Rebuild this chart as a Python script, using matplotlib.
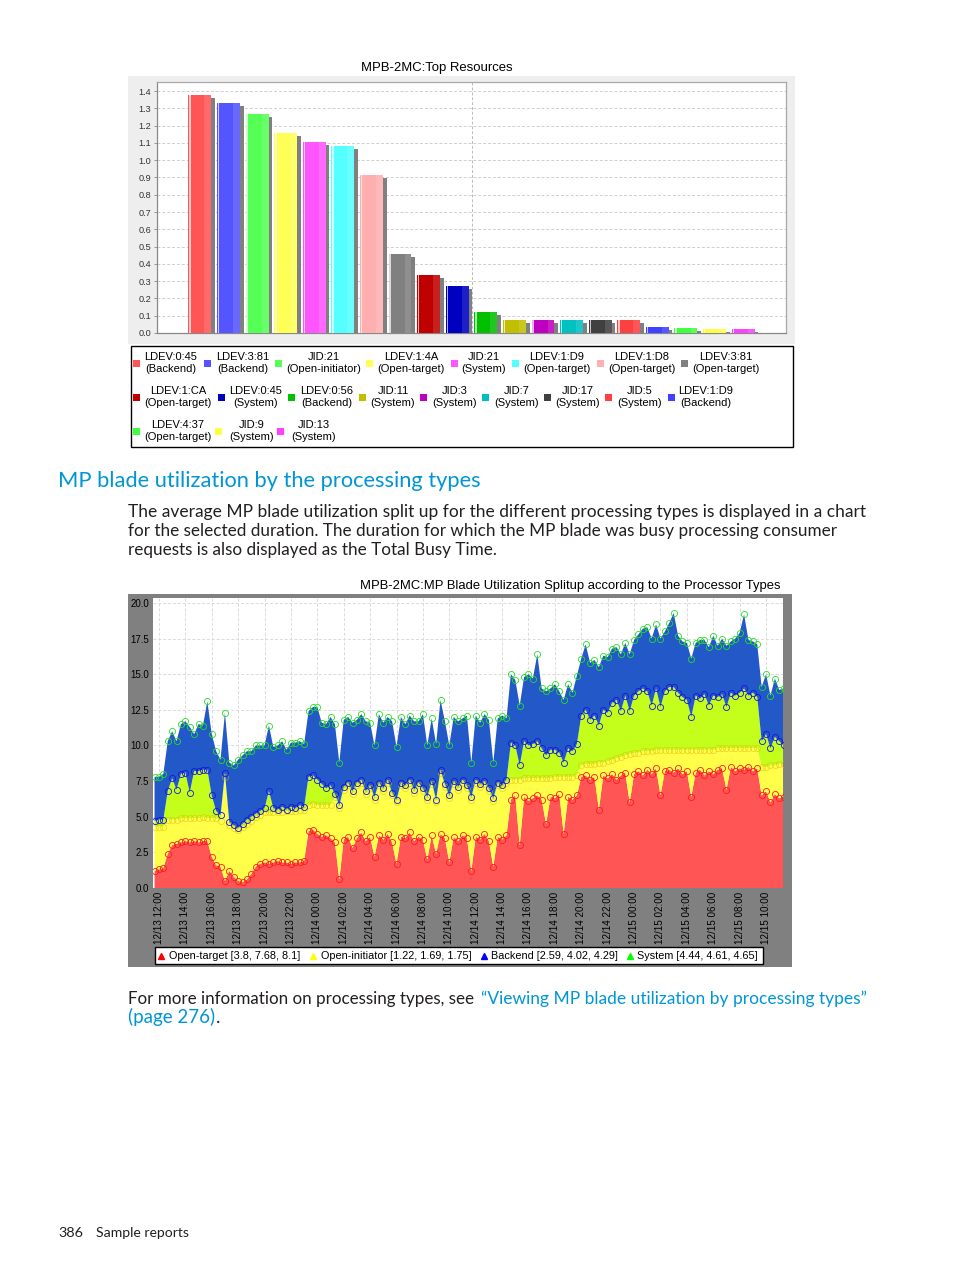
import numpy as np
import pandas as pd
import matplotlib
matplotlib.use("Agg")
import matplotlib.pyplot as plt
import matplotlib.dates as mdates
import matplotlib.colors as mcolors
from matplotlib.patches import Rectangle

plt.rcParams['font.family'] = ['Liberation Sans', 'DejaVu Sans']

# ------------------------------------------------------------------ data
# Top resources bar chart
res_names = ["LDEV:0:45", "LDEV:3:81", "JID:21", "LDEV:1:4A", "JID:21", "LDEV:1:D9",
             "LDEV:1:D8", "LDEV:3:81", "LDEV:1:CA", "LDEV:0:45", "LDEV:0:56", "JID:11",
             "JID:3", "JID:7", "JID:17", "JID:5", "LDEV:1:D9", "LDEV:4:37", "JID:9", "JID:13"]
res_types = ["Backend", "Backend", "Open-initiator", "Open-target", "System", "Open-target",
             "Open-target", "Open-target", "Open-target", "System", "Backend", "System",
             "System", "System", "System", "System", "Backend", "Open-target", "System", "System"]
res_values = [1.38, 1.33, 1.27, 1.16, 1.105, 1.08, 0.915, 0.455, 0.338, 0.272,
              0.12, 0.073, 0.073, 0.073, 0.073, 0.073, 0.033, 0.029, 0.021, 0.021]
res_colors = ["#FF5555", "#5555FF", "#55FF55", "#FFFF55", "#FF55FF", "#55FFFF", "#FFAFAF",
              "#808080", "#C00000", "#0000C0", "#00C000", "#C0C000", "#C000C0", "#00C0C0",
              "#404040", "#FF4040", "#4040FF", "#40FF40", "#FFFF40", "#FF40FF"]
res_yticks = [0.0, 0.1, 0.2, 0.3, 0.4, 0.5, 0.6, 0.7, 0.8, 0.9, 1.0, 1.1, 1.2, 1.3, 1.4]

# MP blade utilisation split-up (20-minute samples from 12/13 11:40)
series_names = ["Open-target", "Open-initiator", "Backend", "System"]
series_stats = ["[3.8, 7.68, 8.1]", "[1.22, 1.69, 1.75]", "[2.59, 4.02, 4.29]", "[4.44, 4.61, 4.65]"]
start_time = "2013-12-13 11:40"
open_target = [
    1.2, 1.3, 1.4, 2.4, 3.0, 3.1, 3.2, 3.3, 3.2, 3.3,
    3.2, 3.3, 3.3, 2.2, 1.6, 1.5, 0.5, 1.2, 0.8, 0.5,
    0.4, 0.6, 1.0, 1.5, 1.7, 1.8, 1.7, 1.8, 1.9, 1.8,
    1.8, 1.7, 1.8, 1.8, 1.9, 4.0, 4.1, 3.8, 3.6, 3.7,
    3.5, 3.2, 0.6, 3.4, 3.6, 2.8, 3.5, 3.9, 3.3, 3.6,
    2.2, 3.7, 3.4, 3.8, 3.2, 1.7, 3.6, 3.5, 3.9, 3.3,
    3.6, 3.4, 2.0, 3.7, 2.4, 3.8, 3.5, 1.8, 3.6, 3.3,
    3.7, 3.5, 1.2, 3.6, 3.4, 3.8, 3.3, 1.5, 3.6, 3.4,
    3.7, 6.2, 6.5, 3.0, 6.4, 6.1, 6.3, 6.5, 6.2, 4.5,
    6.4, 6.3, 6.6, 3.8, 6.4, 6.2, 6.5, 7.8, 7.9, 7.6,
    7.8, 5.5, 7.9, 7.7, 8.0, 7.6, 7.9, 8.1, 6.0, 8.0,
    8.2, 7.9, 8.3, 8.0, 8.4, 6.5, 8.2, 8.3, 8.1, 8.4,
    8.0, 8.2, 6.4, 8.1, 8.3, 7.9, 8.2, 8.0, 8.3, 8.4,
    6.9, 8.5, 8.2, 8.4, 8.3, 8.5, 8.2, 8.4, 6.5, 6.8,
    6.0, 6.6, 6.3, 6.4]
open_initiator = [
    3.1, 3.0, 2.9, 2.4, 1.8, 1.7, 1.7, 1.6, 1.7, 1.6,
    1.7, 1.7, 1.6, 2.7, 3.3, 3.2, 7.3, 3.2, 3.4, 3.6,
    3.9, 3.9, 3.7, 3.5, 3.4, 3.5, 3.6, 3.5, 3.4, 3.5,
    3.6, 3.7, 3.6, 3.7, 3.6, 1.8, 1.8, 2.0, 2.2, 2.1,
    2.3, 3.2, 5.0, 3.5, 3.6, 3.8, 3.7, 3.5, 3.3, 3.4,
    4.0, 3.5, 3.4, 3.6, 3.3, 4.3, 3.6, 3.5, 3.5, 3.4,
    3.6, 3.4, 4.2, 3.6, 3.6, 4.3, 3.6, 4.5, 3.7, 3.6,
    3.7, 3.5, 5.0, 3.8, 3.7, 3.5, 3.5, 4.6, 3.6, 3.6,
    3.7, 1.4, 1.1, 4.6, 1.3, 1.6, 1.4, 1.2, 1.5, 3.2,
    1.3, 1.5, 1.2, 4.0, 1.4, 1.6, 1.4, 0.8, 0.8, 1.1,
    0.9, 3.3, 0.9, 1.2, 1.0, 1.5, 1.3, 1.2, 3.4, 1.5,
    1.3, 1.7, 1.3, 1.6, 1.3, 3.2, 1.5, 1.4, 1.6, 1.3,
    1.7, 1.5, 3.3, 1.6, 1.4, 1.8, 1.5, 1.7, 1.5, 1.4,
    2.9, 1.3, 1.6, 1.4, 1.5, 1.3, 1.6, 1.4, 2.0, 1.7,
    2.6, 2.0, 2.4, 2.3]
backend = [
    0.4, 0.5, 0.5, 2.0, 2.9, 2.1, 3.1, 3.2, 1.8, 3.3,
    3.3, 3.3, 3.4, 1.6, 0.5, 0.4, 0.3, 0.2, 0.2, 0.1,
    0.2, 0.3, 0.3, 0.2, 0.3, 0.3, 1.5, 0.3, 0.2, 0.4,
    0.1, 0.3, 0.2, 0.3, 0.2, 2.0, 2.0, 1.8, 1.5, 1.2,
    1.4, 0.2, 0.2, 0.2, 0.2, 0.2, 0.2, 0.2, 0.2, 0.2,
    0.2, 0.2, 0.2, 0.2, 0.2, 0.2, 0.2, 0.2, 0.2, 0.2,
    0.2, 0.2, 0.2, 0.2, 0.2, 0.2, 0.2, 0.2, 0.2, 0.2,
    0.2, 0.2, 0.2, 0.2, 0.2, 0.2, 0.2, 0.2, 0.2, 0.2,
    0.2, 2.6, 2.4, 1.0, 2.6, 2.3, 2.4, 2.6, 2.1, 1.6,
    2.0, 1.9, 1.7, 1.0, 2.0, 1.8, 2.2, 3.5, 3.8, 3.1,
    3.4, 2.6, 3.7, 3.4, 4.0, 4.1, 3.2, 4.2, 3.0, 4.0,
    4.3, 4.4, 4.2, 3.2, 4.3, 3.0, 4.1, 4.4, 4.4, 4.0,
    3.7, 3.5, 2.3, 3.8, 3.6, 3.9, 3.1, 3.8, 3.6, 3.8,
    2.9, 3.9, 3.7, 3.9, 4.2, 3.7, 3.9, 3.6, 1.8, 2.3,
    1.2, 2.0, 1.6, 1.3]
system = [
    3.1, 3.0, 3.2, 3.5, 3.3, 3.4, 3.5, 3.6, 4.6, 2.6,
    3.3, 3.1, 4.8, 4.3, 4.2, 3.9, 4.2, 4.2, 4.2, 4.8,
    4.8, 4.8, 4.6, 4.8, 4.6, 4.4, 4.6, 4.3, 4.5, 4.6,
    4.2, 4.5, 4.6, 4.5, 4.4, 4.6, 4.8, 5.1, 4.3, 4.5,
    4.8, 4.9, 3.0, 4.7, 4.6, 4.8, 4.4, 4.6, 4.9, 4.4,
    3.6, 4.8, 4.6, 4.4, 5.0, 3.7, 4.6, 4.3, 4.5, 4.8,
    4.3, 5.2, 3.6, 4.4, 3.9, 4.9, 4.4, 3.5, 4.5, 4.6,
    4.3, 4.9, 2.4, 4.5, 4.3, 4.7, 4.8, 2.5, 4.5, 4.9,
    4.3, 4.8, 4.6, 4.2, 4.5, 5.0, 4.6, 6.1, 4.2, 4.5,
    4.3, 4.6, 4.3, 4.4, 4.5, 4.1, 4.8, 4.0, 4.6, 4.0,
    3.9, 4.1, 3.8, 3.9, 3.8, 3.7, 4.0, 3.7, 4.0, 3.9,
    4.0, 4.2, 4.5, 4.7, 4.5, 4.8, 4.2, 4.5, 5.2, 4.0,
    3.9, 4.0, 4.1, 3.7, 4.1, 3.8, 4.1, 4.2, 3.6, 3.9,
    4.3, 3.6, 4.0, 4.2, 5.2, 3.9, 3.6, 3.7, 3.8, 4.2,
    3.7, 4.1, 3.6, 4.0]
util_yticks = [0.0, 2.5, 5.0, 7.5, 10.0, 12.5, 15.0, 17.5, 20.0]

# page text
heading = "MP blade utilization by the processing types"
body_lines = ["The average MP blade utilization split up for the different processing types is displayed in a chart",
              "for the selected duration. The duration for which the MP blade was busy processing consumer",
              "requests is also displayed as the Total Busy Time."]
more_info = "For more information on processing types, see"
link_text = "\u201cViewing MP blade utilization by processing types\u201d"
link_page = "(page 276)"
page_no = "386"
section = "Sample reports"
title_top = "MPB-2MC:Top Resources"
title_bottom = "MPB-2MC:MP Blade Utilization Splitup according to the Processor Types"

# ------------------------------------------------------------------ figure
W, H = 954, 1271
fig = plt.figure(figsize=(W / 100, H / 100), dpi=100)
renderer = fig.canvas.get_renderer()

bg = fig.add_axes([0, 0, 1, 1])
bg.set_xlim(0, W)
bg.set_ylim(H, 0)
bg.set_axis_off()
bg.patch.set_visible(False)
bg.set_zorder(-5)


def px_axes(x0, y0, x1, y1):
    return fig.add_axes([x0 / W, 1 - y1 / H, (x1 - x0) / W, (y1 - y0) / H])


def fit_text(x, y, s, width, size0=10, **kw):
    t = bg.text(x, y, s, fontsize=size0, **kw)
    w = t.get_window_extent(renderer).width
    t.set_fontsize(size0 * width / w)
    return t


def lighten(c, f):
    r, g, b = mcolors.to_rgb(c)
    return (r + (1 - r) * f, g + (1 - g) * f, b + (1 - b) * f)


PAGE_FONT = ['Lato', 'DejaVu Sans']
HP_BLUE = '#0096D6'
TXT = '#231F20'

# ------------------------------------------------------------------ top chart
bg.add_patch(Rectangle((128, 76), 667, 268, fc='#EEEEEE', ec='none'))
fit_text(437, 71, title_top, 152, ha='center', va='baseline', color='black')

ax1 = px_axes(157, 82, 786, 333)
xs = np.arange(len(res_values))
vals = np.array(res_values)
ax1.bar(xs + 0.13, np.maximum(vals - 0.018, 0), width=0.8, color='#808080', zorder=2)
ax1.bar(xs, vals, width=0.8, color=res_colors, zorder=3)
ax1.bar(xs + 0.16, vals, width=0.24, align='edge', color=[lighten(c, 0.12) for c in res_colors], zorder=3.5)
ax1.bar(xs - 0.4 + 0.03, vals, width=0.05, align='edge',
        color=[lighten(c, 0.7) for c in res_colors], zorder=4)
ax1.set_xlim(-1.5, 20.5)
ax1.set_ylim(0, 1.4525)
ax1.set_yticks(res_yticks)
ax1.set_yticklabels([f"{v:.1f}" for v in res_yticks], fontsize=6.6, color='#333333')
ax1.set_xticks([])
ax1.tick_params(axis='y', length=2, width=0.6, color='#888888', pad=2)
for v in res_yticks[1:]:
    ax1.axhline(v, color='#CFCFCF', lw=0.7, ls=(0, (3, 2)), zorder=1)
ax1.axvline(9.5, color='#BBBBBB', lw=0.7, ls=(0, (3, 2)), zorder=1)
for sp in ax1.spines.values():
    sp.set_color('#A8A8A8')
    sp.set_linewidth(0.9)
ax1.spines['left'].set_color('#888888')
ax1.spines['bottom'].set_color('#888888')

# legend of top chart
bg.add_patch(Rectangle((131, 346), 662, 101, fc='white', ec='black', lw=1.0))
sq_x = [136.6, 207.4, 278.2, 369.6, 454.2, 515.6, 600.1, 684.7,
        136.6, 221.5, 291.9, 362.8, 424.0, 486.0, 547.7, 608.7, 671.8,
        136.6, 219.0, 281.0]
tx_x = [171, 243, 324, 411, 484, 557, 642, 726,
        178, 256, 327, 393, 455, 517, 578, 640, 706,
        178, 251.6, 313.8]
row_y = [363] * 8 + [397] * 9 + [431] * 3
for i, (nm, tp) in enumerate(zip(res_names, res_types)):
    bg.add_patch(Rectangle((sq_x[i] - 3.5, row_y[i] - 3.5), 7, 7, fc=res_colors[i], ec='none'))
    bg.text(tx_x[i], row_y[i], f"{nm}\n({tp})", ha='center', va='center', fontsize=8,
            linespacing=1.22, color='black')

# ------------------------------------------------------------------ page text
fit_text(58, 487, heading, 425, family=PAGE_FONT, color=HP_BLUE, va='baseline')
body_ends = [864, 837, 497]
body_base = [517, 536, 555]
for s, xe, yb in zip(body_lines, body_ends, body_base):
    fit_text(128, yb, s, xe - 128, family=PAGE_FONT, color=TXT, va='baseline')

t1 = fit_text(128, 1004, more_info, 476 - 128, family=PAGE_FONT, color=TXT, va='baseline')
fit_text(481, 1004, link_text, 866 - 481, family=PAGE_FONT, color=HP_BLUE, va='baseline')
t3 = fit_text(128, 1023, link_page, 215 - 128, family=PAGE_FONT, color=HP_BLUE, va='baseline')
bg.text(216, 1023, ".", family=PAGE_FONT, color=TXT, va='baseline', fontsize=t3.get_fontsize())
fit_text(58, 1237, page_no, 25, family=PAGE_FONT, color=TXT, va='baseline')
fit_text(96, 1237, section, 93, family=PAGE_FONT, color=TXT, va='baseline')

# ------------------------------------------------------------------ bottom chart
bg.add_patch(Rectangle((128, 594), 664, 373, fc='#808080', ec='none'))
fit_text(570, 589, title_bottom, 420, ha='center', va='baseline', color='black')

ax2 = px_axes(153, 598, 783, 888)
times = pd.date_range(start_time, periods=len(open_target), freq="20min")
stack = [open_target, open_initiator, backend, system]
fill_colors = ['#FF5555', '#FFFF4A', '#C4FF1C', '#2358C8']
ax2.stackplot(times, *stack, colors=fill_colors, linewidth=0, zorder=2)
cum = np.cumsum(np.array(stack, dtype=float), axis=0)
mark_colors = ['#FF1A1A', '#E6B800', '#1515E0', '#22E022']
mark_alpha = [1.0, 0.55, 1.0, 1.0]
for i in range(4):
    ax2.plot(times, cum[i], ls='none', marker='o', ms=4.4, mfc='none', mec=mark_colors[i],
             mew=0.6, alpha=mark_alpha[i], zorder=3 + i)
ax2.set_xlim(pd.Timestamp("2013-12-13 11:33"), pd.Timestamp("2013-12-15 11:17"))
ax2.set_ylim(0, 20.35)
ax2.xaxis.set_major_locator(mdates.HourLocator(byhour=range(0, 24, 2)))
ax2.xaxis.set_major_formatter(mdates.DateFormatter('%m/%d %H:%M'))
ax2.set_yticks(util_yticks)
ax2.set_yticklabels([f"{v:.1f}" for v in util_yticks], fontsize=7, color='black')
for lab in ax2.get_xticklabels():
    lab.set_rotation(90)
    lab.set_fontsize(7.1)
    lab.set_ha('center')
    lab.set_va('top')
ax2.tick_params(axis='both', length=0, pad=3)
ax2.grid(True, color='#DADADA', lw=0.7, ls=(0, (3, 2)))
ax2.set_axisbelow(True)
for sp in ax2.spines.values():
    sp.set_visible(False)

# legend of bottom chart
bg.add_patch(Rectangle((155, 947), 608, 17, fc='white', ec='black', lw=1.0))
leg_mk = [161.5, 313, 484, 630]
leg_tx = [169, 321, 491, 637]
leg_colors = ['#FF0000', '#FFFF00', '#0000FF', '#00FF00']
for i in range(4):
    bg.plot([leg_mk[i]], [956], marker='^', ms=5, color=leg_colors[i], ls='none')
    bg.text(leg_tx[i], 956, f"{series_names[i]} {series_stats[i]}", fontsize=7.8,
            va='center', ha='left', color='black')

fig.savefig("out.png", dpi=100)
